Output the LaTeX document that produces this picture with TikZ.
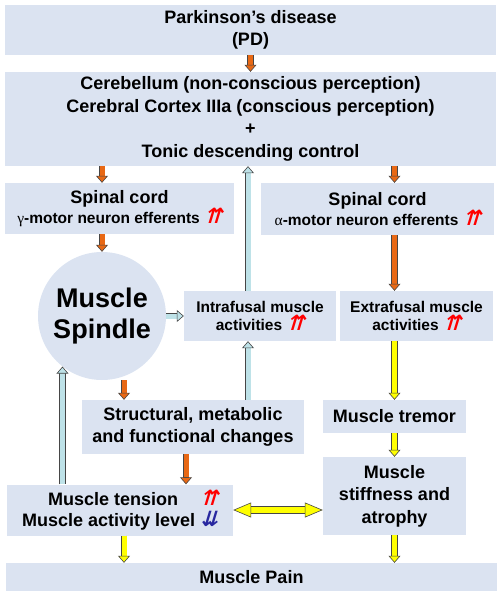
\documentclass[tikz,border=0pt]{standalone}
\usepackage{fontspec}
\setmainfont{Liberation Sans}
\newfontfamily\arrowfont[FakeSlant=0.3]{DejaVu Sans}
\newfontfamily\greekfont{Liberation Serif}
\usetikzlibrary{
        arrows.meta,
        calc,
        positioning
    }
\definecolor{boxblue}{RGB}{219,227,241}
\definecolor{arrorange}{RGB}{232,104,20}
\definecolor{arrcyan}{RGB}{190,226,232}
\definecolor{arryellow}{RGB}{255,255,0}
\definecolor{rimgray}{RGB}{70,70,70}
\definecolor{downblue}{RGB}{40,40,160}
\newcommand{\upup}{{\color{red}\arrowfont\bfseries\fontsize{21}{21}\selectfont ⇈}}
\newcommand{\dndn}{{\color{downblue}\arrowfont\bfseries\fontsize{21}{21}\selectfont ⇊}}
\newcommand{\smalltext}{\fontsize{15.5}{20}\selectfont}
\tikzset{x=1pt,y=-1pt}
\tikzset{box/.style={rectangle,fill=boxblue,inner sep=0pt,align=center,
        font=\bfseries\fontsize{18}{22.5}\selectfont}}
\tikzset{small box/.style={box,font=\bfseries\fontsize{15.5}{21}\selectfont}}
\tikzset{spindle state/.style={circle,fill=boxblue,inner sep=0pt,minimum size=128pt,
        align=center,font=\bfseries\fontsize{27}{31}\selectfont}}
\tikzset{blk/.style={line width=5pt,draw=#1,
        -{Triangle[length=7pt,width=12pt,line width=0.6pt,color=rimgray,fill=#1]},
        preaction={draw=rimgray,line width=6.2pt,-,shorten >=6pt}}}
\tikzset{dblk/.style={line width=6pt,draw=#1,
        {Triangle[length=18pt,width=15pt,line width=0.6pt,color=rimgray,fill=#1]}-{Triangle[length=18pt,width=15pt,line width=0.6pt,color=rimgray,fill=#1]},
        preaction={draw=rimgray,line width=7.2pt,-,shorten >=17pt,shorten <=17pt}}}

\begin{document}
\begin{tikzpicture}
                \useasboundingbox (0,0) rectangle (500,597);
                \node[box,minimum width=491pt,minimum height=50pt] (pd) at (250.5,30) {Parkinson’s disease\\(PD)};
                \node[box,minimum width=491pt,minimum height=94pt] (cer) at (250.5,119)
                    {Cerebellum (non-conscious perception)\\Cerebral Cortex IIIa (conscious perception)\\+\\Tonic descending control};
                \node[box,minimum width=229pt,minimum height=51pt] (spl) at (119.5,208.5)
                    {Spinal cord\\[-3pt]{\smalltext{\greekfont\mdseries γ}-motor neuron efferents \upup}};
                \node[box,minimum width=233pt,minimum height=52pt] (spr) at (377.5,209)
                    {Spinal cord\\[-3pt]{\smalltext{\greekfont\mdseries α}-motor neuron efferents \upup}};
                \node[spindle state] (spindle) at (102,316) {Muscle\\Spindle};
                \node[small box,minimum width=152pt,minimum height=50pt] (intra) at (260,316) {Intrafusal muscle\\[-3pt]activities \upup};
                \node[small box,minimum width=153pt,minimum height=50pt] (extra) at (416.5,316) {Extrafusal muscle\\[-3pt]activities \upup};
                \node[box,minimum width=222pt,minimum height=54pt] (struct) at (193,427) {Structural, metabolic\\and functional changes};
                \node[box,minimum width=143pt,minimum height=33pt] (tremor) at (394.5,416.5) {Muscle tremor};
                \node[box,minimum width=143pt,minimum height=78pt] (stiff) at (394.5,496) {Muscle\\stiffness and\\atrophy};
                \node[box,minimum width=226pt,minimum height=51pt,align=right,
                      font=\bfseries\fontsize{18}{24.5}\selectfont] (tension) at (120,510)
                    {Muscle tension\hspace{22pt}\upup\\[-3pt]Muscle activity level \dndn};
                \node[box,minimum width=491pt,minimum height=28pt] (pain) at (251.5,577) {Muscle Pain};
                % descending pathway
                \draw[blk=arrorange] (pd.south) -- (cer.north);
                \draw[blk=arrorange] (cer.south -| spindle) -- (spl.north -| spindle);
                \draw[blk=arrorange] (cer.south -| tremor) -- (spr.north -| tremor);
                \draw[blk=arrorange] (spl.south -| spindle) -- (spindle.north);
                \draw[blk=arrorange] (spr.south -| tremor) -- (extra.north -| tremor);
                % feedback loop
                \draw[blk=arrcyan] (spindle.east) -- (intra.west);
                \draw[blk=arrcyan] ([xshift=-12pt]intra.north) -- ([xshift=-12pt]intra.north |- cer.south);
                \draw[blk=arrorange] ([xshift=22pt]spindle.south) -- ([xshift=22pt]spindle.south |- struct.north);
                \draw[blk=arrcyan] ([xshift=-12pt]intra.south |- struct.north) -- ([xshift=-12pt]intra.south);
                \draw[blk=arrorange] ([xshift=-7pt]struct.south) -- ([xshift=-7pt]struct.south |- tension.north);
                \draw[blk=arrcyan] (spindle.232.5 |- tension.north) -- (spindle.232.5);
                % towards pain
                \draw[blk=arryellow] (extra.south -| tremor) -- (tremor.north);
                \draw[blk=arryellow] (tremor.south) -- (stiff.north);
                \draw[dblk=arryellow] (tension.east) -- (tension.east -| stiff.west);
                \draw[blk=arryellow] ([xshift=4pt]tension.south) -- ([xshift=4pt]tension.south |- pain.north);
                \draw[blk=arryellow] (stiff.south) -- (stiff.south |- pain.north);
            \end{tikzpicture}
\end{document}
